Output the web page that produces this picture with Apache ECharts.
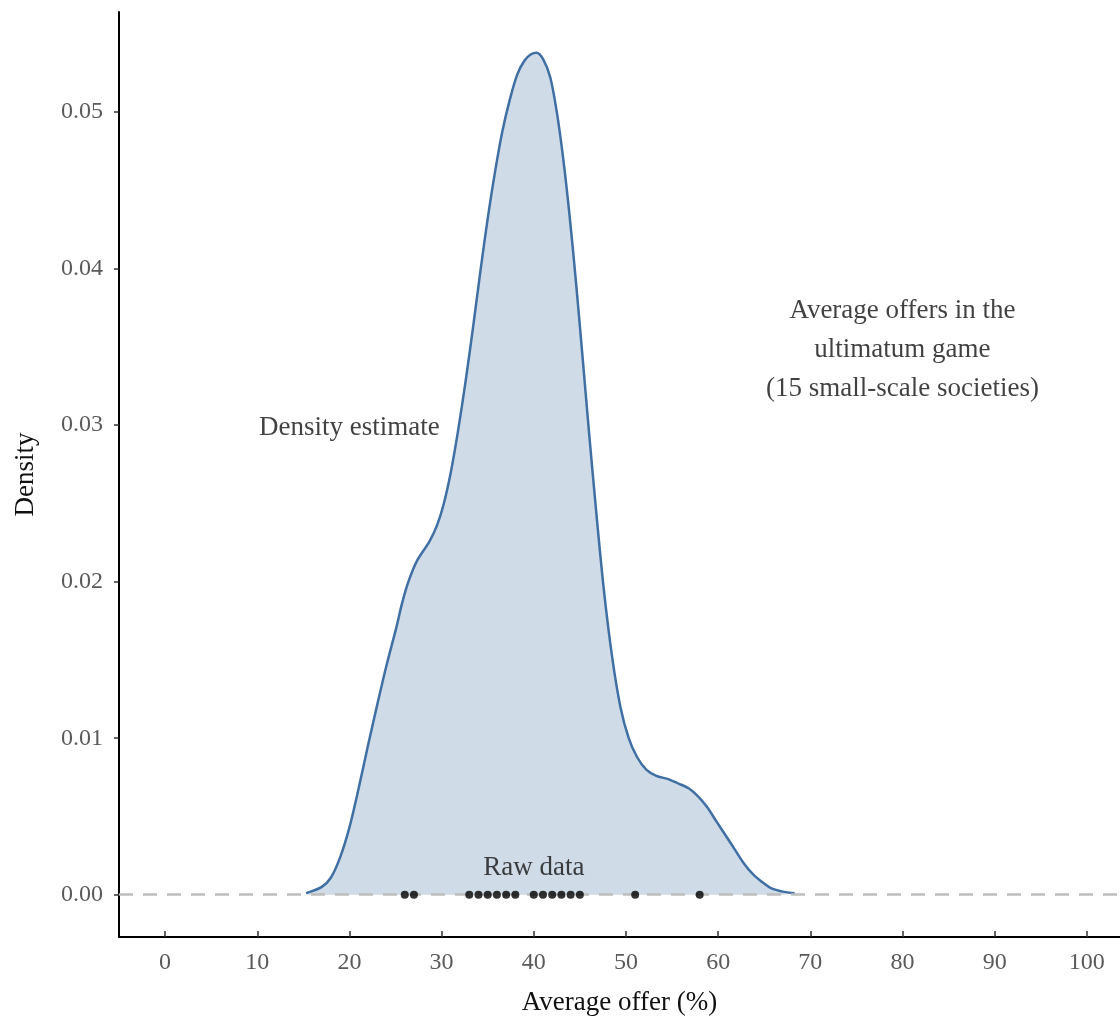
<!DOCTYPE html>
<html>
<head>
<meta charset="utf-8">
<script src="https://cdn.jsdelivr.net/npm/echarts@6/dist/echarts.min.js"></script>
<style>html,body{margin:0;padding:0;background:#fff}#c{width:1120px;height:1021px}</style>
</head>
<body>
<div id="c"></div>
<script>
// Density curve: offer (%) and density
const curveOffer = [15.3, 17.0, 18.0, 19.0, 20.0, 21.0, 22.0, 23.0, 24.0, 25.1, 25.7, 26.4, 27.3, 28.7, 29.5, 30.2, 31.0, 31.8, 32.6, 33.4, 34.2, 35.0, 35.8, 36.6, 37.4, 38.2, 39.0, 39.7, 40.3, 41.0, 41.8, 42.5, 43.2, 43.9, 44.6, 45.3, 46.0, 46.8, 47.6, 48.5, 49.4, 50.3, 51.2, 52.2, 53.3, 54.5, 55.7, 56.8, 57.8, 58.8, 59.8, 60.8, 61.8, 62.8, 63.8, 64.8, 65.8, 67.0, 68.3];
const curveDensity = [0.0001, 0.0005, 0.0011, 0.0024, 0.0043, 0.0068, 0.0095, 0.0121, 0.0146, 0.0171, 0.0186, 0.0200, 0.0213, 0.0226, 0.0236, 0.0249, 0.0270, 0.0297, 0.0328, 0.0362, 0.0398, 0.0432, 0.0462, 0.0488, 0.0508, 0.0524, 0.0533, 0.0537, 0.0538, 0.0534, 0.0522, 0.0500, 0.0470, 0.0433, 0.0390, 0.0343, 0.0295, 0.0243, 0.0195, 0.0152, 0.0120, 0.0100, 0.0088, 0.0080, 0.0076, 0.0074, 0.0071, 0.0068, 0.0063, 0.0056, 0.0047, 0.0038, 0.0029, 0.0020, 0.0013, 0.0008, 0.0004, 0.0002, 0.0001];
// Raw data points (average offers)
const rawOffers = [26, 27, 33, 34, 35, 36, 37, 38, 40, 41, 42, 43, 44, 45, 51, 58];
// Tick labels
const xTicks = [0, 10, 20, 30, 40, 50, 60, 70, 80, 90, 100];
const yTicks = [0, 0.01, 0.02, 0.03, 0.04, 0.05];
// Annotations
const annotations = [
  {text: 'Density estimate', x: 20, y: 0.0298},
  {text: 'Raw data', x: 40, y: 0.0017},
  {text: 'Average offers in the\nultimatum game\n(15 small-scale societies)', x: 80, y: 0.0348}
];

const serif = '"Liberation Serif", "DejaVu Serif", serif';
const chart = echarts.init(document.getElementById('c'), null, {renderer: 'canvas'});
chart.setOption({
  animation: false,
  backgroundColor: '#fff',
  grid: {left: 119, right: 0, top: 12, bottom: 80, containLabel: false},
  xAxis: {
    type: 'value', min: -5, max: 103.6,
    name: 'Average offer (%)', nameLocation: 'middle', nameGap: 52,
    nameTextStyle: {fontFamily: serif, fontSize: 27, color: '#111'},
    axisLine: {show: true, onZero: false, lineStyle: {color: '#000', width: 2}},
    axisTick: {show: true, inside: true, length: 6, customValues: xTicks, lineStyle: {color: '#333', width: 1.5}},
    axisLabel: {customValues: xTicks, fontFamily: serif, fontSize: 24, color: '#5a5a5a', margin: 14},
    splitLine: {show: false}
  },
  yAxis: {
    type: 'value', min: -0.0027, max: 0.0564,
    name: 'Density', nameLocation: 'middle', nameGap: 80, nameRotate: 90,
    nameTextStyle: {fontFamily: serif, fontSize: 27, color: '#111'},
    axisLine: {show: true, onZero: false, lineStyle: {color: '#000', width: 2}},
    axisTick: {show: true, inside: false, length: 5, customValues: yTicks, lineStyle: {color: '#333', width: 1.5}},
    axisLabel: {customValues: yTicks, fontFamily: serif, fontSize: 24, color: '#5a5a5a', margin: 16,
      formatter: v => v.toFixed(2)},
    splitLine: {show: false}
  },
  series: [
    {
      type: 'line', smooth: 0.3, symbol: 'none', z: 2,
      data: curveOffer.map((x, i) => [x, curveDensity[i]]),
      lineStyle: {color: '#3f6fa3', width: 2.5},
      areaStyle: {color: '#cfdbe7', opacity: 1, origin: 0},
      markLine: {
        silent: true, symbol: 'none', z: 3,
        lineStyle: {color: '#bdbdbd', type: [14, 10], width: 2.5},
        label: {show: false},
        data: [[{coord: [-5, 0]}, {coord: [103.6, 0]}]]
      }
    },
    {
      type: 'scatter', z: 5, symbolSize: 8,
      itemStyle: {color: '#000'},
      data: rawOffers.map(x => [x, 0])
    },
    {
      type: 'scatter', z: 6, symbolSize: 0, silent: true,
      data: annotations.map(a => ({value: [a.x, a.y], label: {formatter: a.text}})),
      label: {show: true, position: 'inside', fontFamily: serif, fontSize: 27, color: '#111', lineHeight: 39, align: 'center', verticalAlign: 'middle'}
    }
  ]
});
</script>
</body>
</html>
